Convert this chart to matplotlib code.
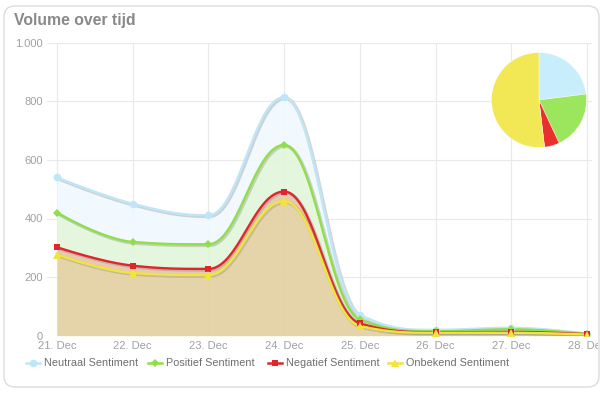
import numpy as np
import matplotlib
matplotlib.use("Agg")
import matplotlib.pyplot as plt
import matplotlib.patheffects as pe
from matplotlib.patches import FancyBboxPatch
from matplotlib.lines import Line2D
from matplotlib.transforms import IdentityTransform, Bbox, TransformedBbox

# data (stacked area)
dates = ['21. Dec', '22. Dec', '23. Dec', '24. Dec', '25. Dec', '26. Dec', '27. Dec', '28. Dec']
series_names = ['Neutraal Sentiment', 'Positief Sentiment', 'Negatief Sentiment', 'Onbekend Sentiment']
neutraal = [120, 130, 99, 163, 15, 5, 5, 1]
positief = [118, 81, 84, 159, 14, 3, 9, 1]
negatief = [25, 25, 21, 33, 9, 2, 3, 1]
onbekend = [277, 214, 207, 459, 33, 10, 10, 4]
y_ticks = [0, 200, 400, 600, 800, 1000]
y_labels = ['0', '200', '400', '600', '800', '1.000']

line_colors = ['#bfe6f8', '#8fdf4a', '#e0262a', '#f2e43c']
fill_colors = ['#f1f9fe', '#e3f6dc', '#e2c6a8', '#e3d0a1']
pie_colors = ['#c8eefc', '#9be65c', '#e8302c', '#f2e855']
markers = ['o', 'D', 's', '^']
msizes = [5.5, 4, 4.5, 5.5]


def spline(x, y, n=40):
    # Highcharts-like spline (smoothing 1.5)
    x = np.asarray(x, float)
    y = np.asarray(y, float)
    k = len(x)
    s = 1.5
    lc = [None] * k
    rc = [None] * k
    for i in range(1, k - 1):
        px, py = x[i], y[i]
        lx, ly = x[i - 1], y[i - 1]
        nx, ny = x[i + 1], y[i + 1]
        lcx, lcy = (s * px + lx) / (s + 1), (s * py + ly) / (s + 1)
        rcx, rcy = (s * px + nx) / (s + 1), (s * py + ny) / (s + 1)
        corr = (rcy - lcy) * (rcx - px) / (rcx - lcx) + py - rcy
        lcy += corr
        rcy += corr
        if lcy > max(ly, py):
            lcy = max(ly, py); rcy = 2 * py - lcy
        elif lcy < min(ly, py):
            lcy = min(ly, py); rcy = 2 * py - lcy
        if rcy > max(py, ny):
            rcy = max(py, ny); lcy = 2 * py - rcy
        elif rcy < min(py, ny):
            rcy = min(py, ny); lcy = 2 * py - rcy
        lc[i] = (lcx, lcy)
        rc[i] = (rcx, rcy)
    rc[0] = (x[0], y[0])
    lc[k - 1] = (x[-1], y[-1])
    t = np.linspace(0, 1, n)
    xs, ys = [], []
    for i in range(1, k):
        p0 = (x[i - 1], y[i - 1]); p1 = rc[i - 1]; p2 = lc[i]; p3 = (x[i], y[i])
        a, b, c, d = (1 - t) ** 3, 3 * (1 - t) ** 2 * t, 3 * (1 - t) * t ** 2, t ** 3
        xs.append(a * p0[0] + b * p1[0] + c * p2[0] + d * p3[0])
        ys.append(a * p0[1] + b * p1[1] + c * p2[1] + d * p3[1])
    return np.concatenate(xs), np.concatenate(ys)


W, H = 607, 393
fig = plt.figure(figsize=(W / 100, H / 100), dpi=100)

# rounded frame
frame = FancyBboxPatch((4, 6), 595, 381, boxstyle='round,pad=0,rounding_size=11',
                       transform=IdentityTransform(), facecolor='white',
                       edgecolor='#dcdcdc', linewidth=1.0, zorder=-5)
fig.patches.append(frame)

fig.text(14 / W, 1 - 21 / H, 'Volume over tijd', fontsize=11.3, fontweight='bold',
         color='#898989', family='Liberation Sans', va='center', ha='left')

ax = fig.add_axes([47 / W, 1 - 335.7 / H, 545 / W, 293 / H])
ax.patch.set_alpha(0)
x = np.arange(len(dates))
ax.set_xlim(-0.132, 7.066)
ax.set_ylim(0, 1000)

# stacked tops, bottom series first
stack_vals = [onbekend, negatief, positief, neutraal]
tops = np.cumsum(np.array(stack_vals, float), axis=0)[::-1]  # neutraal top first
bottoms = list(tops[1:]) + [np.zeros(len(x))]

curves = [spline(x, t) for t in tops]
base = [spline(x, b) for b in bottoms]

shadow = [pe.SimpleLineShadow(offset=(0.8, -0.8), shadow_color='#888888', alpha=0.35, linewidth=2.5),
          pe.Normal()]

for i in range(4):
    cx, cy = curves[i]
    bx, by = base[i]
    ax.fill_between(cx, by, cy, color=fill_colors[i], alpha=0.9, linewidth=0, zorder=2 + i)

for i in range(4):
    cx, cy = curves[i]
    ax.plot(cx, cy, color=line_colors[i], lw=1.7, zorder=10 + i, path_effects=shadow,
            solid_capstyle='round')
    ax.plot(x, tops[i], linestyle='none', marker=markers[i], ms=msizes[i],
            color=line_colors[i], markeredgewidth=0, zorder=15 + i)

ax.set_xticks(x)
ax.set_xticklabels(dates)
ax.set_yticks(y_ticks)
ax.set_yticklabels(y_labels)
ax.grid(True, color='#e9e9e9', linewidth=0.8, zorder=0)
ax.set_axisbelow(True)
for sp in ax.spines.values():
    sp.set_visible(False)
ax.tick_params(axis='both', length=0, labelsize=8, labelcolor='#a0a0a0')
ax.tick_params(axis='x', pad=4)
ax.tick_params(axis='y', pad=3)
for lab in ax.get_xticklabels() + ax.get_yticklabels():
    lab.set_family('Liberation Sans')
clip = TransformedBbox(Bbox([[0, 0], [598, H]]), IdentityTransform())
last = ax.get_xticklabels()[-1]
last.set_clip_on(True)
last.set_clip_box(clip)

# pie of totals
totals = [sum(neutraal), sum(positief), sum(negatief), sum(onbekend)]
pax = fig.add_axes([491 / W, 1 - 148 / H, 96 / W, 96 / H])
pax.pie(totals, colors=pie_colors, startangle=90, counterclock=False,
        wedgeprops=dict(linewidth=0.3, edgecolor='white'))
pax.set_xlim(-1.01, 1.01)
pax.set_ylim(-1.01, 1.01)
pax.set_aspect('equal')

# legend drawn by hand, Highcharts style
leg_y = 1 - 362.7 / H
leg_x = [33, 155, 275, 395]
for i in range(4):
    cx = leg_x[i]
    fig.add_artist(Line2D([(cx - 7) / W, (cx + 7) / W], [leg_y, leg_y], color=line_colors[i],
                          lw=1.8, transform=fig.transFigure))
    fig.add_artist(Line2D([cx / W], [leg_y], marker=markers[i], ms=msizes[i],
                          color=line_colors[i], markeredgewidth=0, transform=fig.transFigure))
    fig.text((cx + 11) / W, leg_y, series_names[i], fontsize=7.8, color='#6e6e6e',
             family='Liberation Sans', va='center', ha='left')

fig.savefig('out.png', dpi=100)
